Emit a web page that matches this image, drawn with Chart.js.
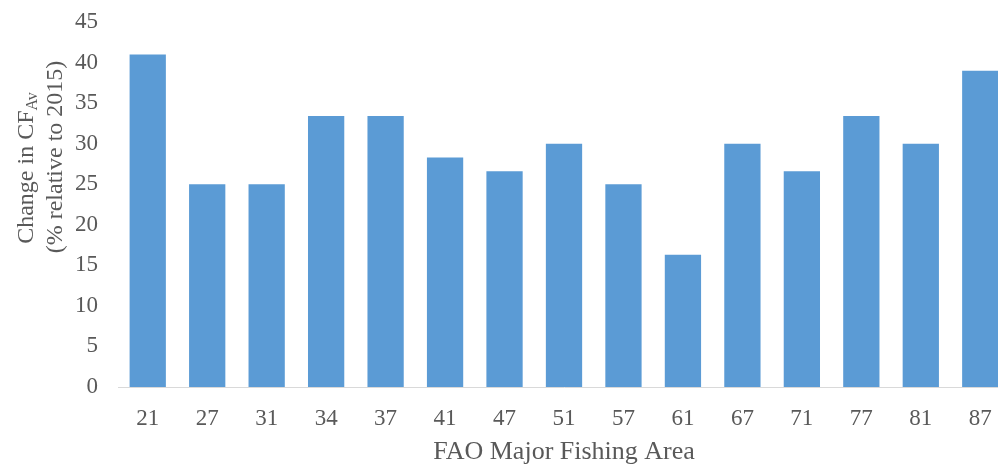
<!DOCTYPE html>
<html>
<head>
<meta charset="utf-8">
<script src="https://cdn.jsdelivr.net/npm/chart.js@4"></script>
<style>
  html, body { margin: 0; padding: 0; background: #fff; overflow: hidden; }
  #wrap { width: 998px; height: 466px; overflow: hidden; position: relative; }
  #box { width: 1010px; height: 466px; position: absolute; left: 0; top: 0; }
</style>
</head>
<body>
<div id="wrap"><div id="box"><canvas id="grafica"></canvas></div></div>
<script>
const areas = ['21', '27', '31', '34', '37', '41', '47', '51', '57', '61', '67', '71', '77', '81', '87'];
const cambio = [41.0, 25.0, 25.0, 33.4, 33.4, 28.3, 26.6, 30.0, 25.0, 16.3, 30.0, 26.6, 33.4, 30.0, 39.0];
const yTicks = [0, 5, 10, 15, 20, 25, 30, 35, 40, 45];

const serif = '"Liberation Serif", "Times New Roman", serif';
const gris = '#595959';

// titulo del eje Y con subindice (dos lineas, girado)
const tituloY = {
    id: 'tituloY',
    afterDraw(chart) {
        const ctx = chart.ctx;
        const big = '24px ' + serif, small = '16px ' + serif;

        // linea 1: Change in CF_Av
        ctx.save();
        ctx.fillStyle = gris;
        ctx.textBaseline = 'middle';
        ctx.textAlign = 'left';
        ctx.font = big;
        const w1 = ctx.measureText('Change in CF').width;
        ctx.font = small;
        const w2 = ctx.measureText('Av').width;
        ctx.translate(27, 168);
        ctx.rotate(-Math.PI / 2);
        const x = -(w1 + w2) / 2;
        ctx.font = big;
        ctx.fillText('Change in CF', x, 0);
        ctx.font = small;
        ctx.fillText('Av', x + w1, 6);
        ctx.restore();

        // linea 2
        ctx.save();
        ctx.fillStyle = gris;
        ctx.textBaseline = 'middle';
        ctx.textAlign = 'center';
        ctx.font = big;
        ctx.translate(56, 157);
        ctx.rotate(-Math.PI / 2);
        ctx.fillText('(% relative to 2015)', 0, 0);
        ctx.restore();
    }
};

new Chart(document.getElementById('grafica').getContext('2d'), {
    type: 'bar',
    data: {
        labels: areas,
        datasets: [{
            label: 'Change in CF',
            data: cambio,
            backgroundColor: '#5B9BD5',
            borderWidth: 0,
            barPercentage: 0.61,
            categoryPercentage: 1.0
        }]
    },
    options: {
        responsive: true,
        maintainAspectRatio: false,
        animation: false,
        layout: { padding: { top: 22, right: 0, bottom: 0, left: 0 } },
        plugins: {
            legend: { display: false },
            tooltip: { enabled: false }
        },
        scales: {
            x: {
                afterFit(scale) { scale.height = 79; },
                grid: { display: false, drawTicks: false },
                border: { display: true, color: '#D9D9D9', width: 1 },
                ticks: { color: gris, font: { family: serif, size: 23 }, padding: 18 },
                title: { display: true, text: 'FAO Major Fishing Area', color: gris,
                         font: { family: serif, size: 26, lineHeight: 1.1 }, padding: { top: 4, bottom: 0 } }
            },
            y: {
                min: 0,
                max: 45,
                afterFit(scale) {
                    scale.width = 118;
                    scale.paddingTop = 0;
                    scale.paddingBottom = 0;
                },
                afterBuildTicks(scale) { scale.ticks = yTicks.map(v => ({ value: v })); },
                grid: { display: false, drawTicks: false },
                border: { display: false },
                ticks: { color: gris, font: { family: serif, size: 23 }, padding: 20 }
            }
        }
    },
    plugins: [tituloY]
});
</script>
</body>
</html>
